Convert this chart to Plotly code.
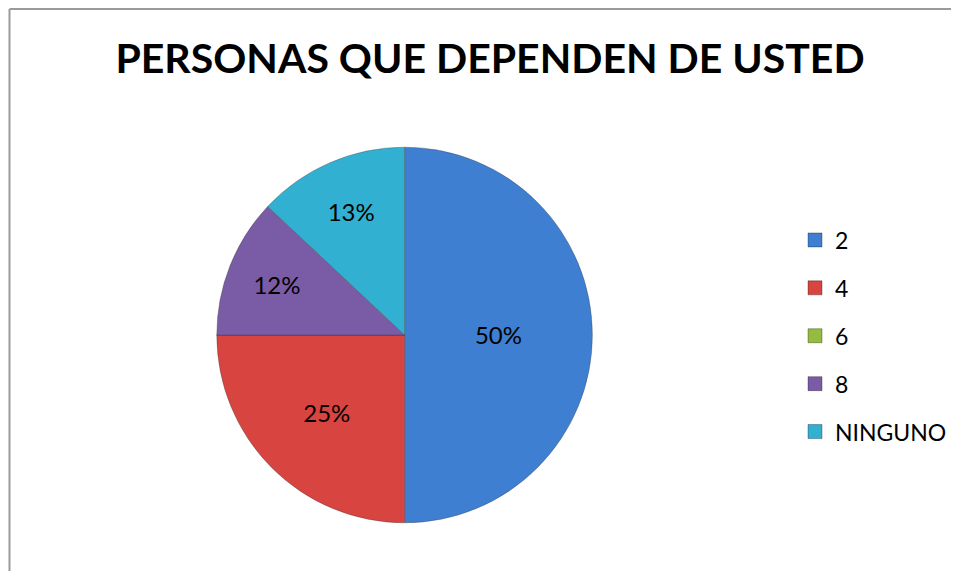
import plotly.graph_objects as go

categorias = ['2', '4', '6', '8', 'NINGUNO']
valores = [50, 25, 0, 12, 13]
colores = ['#3f7fd2', '#d8443f', '#95bb3f', '#7a5ca6', '#31b0d1']

titulo = '<b>PERSONAS QUE DEPENDEN DE USTED</b>'

fig = go.Figure()
fig.add_trace(go.Pie(labels=categorias,
                     values=valores,
                     sort=False,
                     direction='clockwise',
                     rotation=0,
                     marker={'colors': colores,
                             'line': {'color': 'rgba(60,60,60,0.35)', 'width': 1}},
                     texttemplate='%{percent:.0%}',
                     textposition='inside',
                     insidetextorientation='horizontal',
                     textfont={'size': 24, 'color': 'black', 'family': 'Lato'},
                     showlegend=False,
                     hoverinfo='label+percent',
                     domain={'x': [0.2214, 0.6197], 'y': [0.0853, 0.7531]}))

# leyenda con trazas vacias para poder espaciar las entradas
for cat, col in zip(categorias, colores):
    fig.add_trace(go.Scatter(x=[None], y=[None],
                             mode='markers',
                             name=cat,
                             legendgroup=cat,
                             marker={'symbol': 'square', 'size': 14, 'color': col,
                                     'line': {'color': 'rgba(0,0,0,0.3)', 'width': 1}}))

fig.update_layout(title={'text': titulo,
                         'x': 0.5106,
                         'xanchor': 'center',
                         'y': 0.9105,
                         'yanchor': 'middle',
                         'font': {'size': 41, 'color': 'black', 'family': 'Lato'}},
                  legend={'x': 0.835,
                          'xanchor': 'left',
                          'y': 0.4174,
                          'yanchor': 'middle',
                          'font': {'size': 23, 'color': 'black', 'family': 'Lato'},
                          'tracegroupgap': 15,
                          'itemwidth': 30,
                          'bgcolor': 'rgba(0,0,0,0)'},
                  xaxis={'visible': False},
                  yaxis={'visible': False},
                  plot_bgcolor='white',
                  paper_bgcolor='white',
                  shapes=[{'type': 'line', 'xref': 'paper', 'yref': 'paper',
                           'x0': 1.5 / 944, 'x1': 1.5 / 944, 'y0': 0, 'y1': 1 - 1 / 563,
                           'line': {'color': '#9a9a9a', 'width': 2}},
                          {'type': 'line', 'xref': 'paper', 'yref': 'paper',
                           'x0': 1.5 / 944, 'x1': 1, 'y0': 1 - 1 / 563, 'y1': 1 - 1 / 563,
                           'line': {'color': '#9a9a9a', 'width': 2}}],
                  margin={'l': 0, 'r': 0, 't': 0, 'b': 0},
                  width=944, height=563)

fig.write_html('out.html')
